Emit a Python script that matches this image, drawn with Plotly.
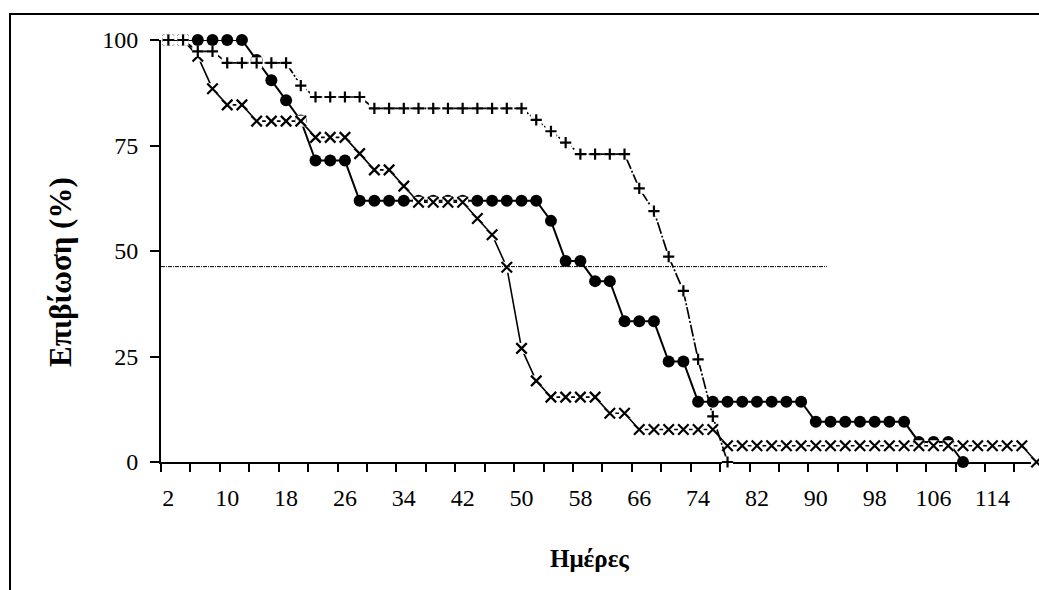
import plotly.graph_objects as go

# ---------------- data ----------------
circle_days = [2, 4, 6, 8, 10, 12, 14, 16, 18, 20, 22, 24, 26, 28, 30, 32, 34, 36, 38, 40,
               42, 44, 46, 48, 50, 52, 54, 56, 58, 60, 62, 64, 66, 68, 70, 72, 74, 76, 78, 80,
               82, 84, 86, 88, 90, 92, 94, 96, 98, 100, 102, 104, 106, 108, 110]
circle_vals = [100, 100, 100, 100, 100, 100, 95.24, 90.48, 85.71, 80.95, 71.43, 71.43, 71.43,
               61.9, 61.9, 61.9, 61.9, 61.9, 61.9, 61.9, 61.9, 61.9, 61.9, 61.9, 61.9, 61.9,
               57.14, 47.62, 47.62, 42.86, 42.86, 33.33, 33.33, 33.33, 23.81, 23.81,
               14.29, 14.29, 14.29, 14.29, 14.29, 14.29, 14.29, 14.29,
               9.52, 9.52, 9.52, 9.52, 9.52, 9.52, 9.52, 4.76, 4.76, 4.76, 0]

cross_days = [2, 4, 6, 8, 10, 12, 14, 16, 18, 20, 22, 24, 26, 28, 30, 32, 34, 36, 38, 40,
              42, 44, 46, 48, 50, 52, 54, 56, 58, 60, 62, 64, 66, 68, 70, 72, 74, 76, 78, 80,
              82, 84, 86, 88, 90, 92, 94, 96, 98, 100, 102, 104, 106, 108, 110, 112, 114, 116,
              118, 120]
cross_vals = [100, 100, 96.15, 88.46, 84.62, 84.62, 80.77, 80.77, 80.77, 80.77,
              76.92, 76.92, 76.92, 73.08, 69.23, 69.23, 65.38, 61.54, 61.54, 61.54, 61.54,
              57.69, 53.85, 46.15, 26.92, 19.23, 15.38, 15.38, 15.38, 15.38, 11.54, 11.54,
              7.69, 7.69, 7.69, 7.69, 7.69, 7.69,
              3.85, 3.85, 3.85, 3.85, 3.85, 3.85, 3.85, 3.85, 3.85, 3.85, 3.85, 3.85, 3.85,
              3.85, 3.85, 3.85, 3.85, 3.85, 3.85, 3.85, 3.85, 0]

plus_days = [2, 4, 6, 8, 10, 12, 14, 16, 18, 20, 22, 24, 26, 28, 30, 32, 34, 36, 38, 40,
             42, 44, 46, 48, 50, 52, 54, 56, 58, 60, 62, 64, 66, 68, 70, 72, 74, 76, 78]
plus_vals = [100, 100, 97.3, 97.3, 94.59, 94.59, 94.59, 94.59, 94.59, 89.19,
             86.49, 86.49, 86.49, 86.49, 83.78, 83.78, 83.78, 83.78, 83.78, 83.78, 83.78,
             83.78, 83.78, 83.78, 83.78, 81.08, 78.38, 75.68, 72.97, 72.97, 72.97, 72.97,
             64.86, 59.46, 48.65, 40.54, 24.32, 10.81, 0]

ref_level = 46.3          # horizontal reference line
ref_end_day = 91.5

x_tick_vals = [2, 10, 18, 26, 34, 42, 50, 58, 66, 74, 82, 90, 98, 106, 114]
x_tick_text = ["2", "10", "18", "26", "34", "42", "50", "58", "66", "74", "82", "90", "98",
               "106", "114"]
x_minor_ticks = [1, 5, 9, 13, 17, 21, 25, 29, 33, 37, 41, 45, 49, 53, 57, 61, 65, 69, 73,
                 77, 81, 85, 89, 93, 97, 101, 105, 109, 113, 117]
y_tick_vals = [0, 25, 50, 75, 100]
y_tick_text = ["0", "25", "50", "75", "100"]

x_title = "Ημέρες"
y_title = "Επιβίωση (%)"

# ---------------- figure ----------------
W, H = 1039, 590
ML, MT = 161, 40              # plot area starts at x=161, y=40
MB = H - 462                  # x axis at y=462
MR = 0
PW, PH = W - ML - MR, H - MT - MB
PX_PER_DAY = 7.3575

def px_x(p):                  # pixel -> paper fraction
    return (p - ML) / PW

def px_y(p):
    return (H - MB - p) / PH

SERIF = "Liberation Serif, Times New Roman, serif"

fig = go.Figure()

# circles (solid line)
fig.add_trace(go.Scatter(
    x=circle_days, y=circle_vals, mode="lines+markers",
    line=dict(color="black", width=2),
    marker=dict(symbol="circle", size=12, color="black"),
    cliponaxis=False, showlegend=False, hoverinfo="skip"))

# x-series: line + white marker background, then the x glyphs
fig.add_trace(go.Scatter(
    x=cross_days, y=cross_vals, mode="lines+markers",
    line=dict(color="black", width=1.6),
    marker=dict(symbol="square", size=11, color="white", line=dict(width=0)),
    cliponaxis=False, showlegend=False, hoverinfo="skip"))
fig.add_trace(go.Scatter(
    x=cross_days, y=cross_vals, mode="markers",
    marker=dict(symbol="x-thin", size=10.5, line=dict(color="black", width=2.2)),
    cliponaxis=False, showlegend=False, hoverinfo="skip"))

# plus-series: dash-dot line + white marker background, then the + glyphs
fig.add_trace(go.Scatter(
    x=plus_days, y=plus_vals, mode="lines+markers",
    line=dict(color="black", width=1.7, dash="12px,2px,2px,2px"),
    marker=dict(symbol="square", size=11, color="white", line=dict(width=0)),
    cliponaxis=False, showlegend=False, hoverinfo="skip"))
fig.add_trace(go.Scatter(
    x=plus_days, y=plus_vals, mode="markers",
    marker=dict(symbol="cross-thin", size=8, line=dict(color="black", width=2.2)),
    cliponaxis=False, showlegend=False, hoverinfo="skip"))

fig.update_layout(
    width=W, height=H,
    margin=dict(l=ML, r=MR, t=MT, b=MB, pad=0),
    paper_bgcolor="white", plot_bgcolor="white",
    hovermode=False,
    font=dict(family=SERIF, color="black"),
    xaxis=dict(
        range=[1, 1 + PW / PX_PER_DAY],
        tickmode="array", tickvals=x_tick_vals, ticktext=x_tick_text,
        ticks="outside", ticklen=8, tickwidth=2, tickcolor="rgba(0,0,0,0)",
        ticklabelstandoff=5,
        minor=dict(tickmode="array", tickvals=x_minor_ticks, ticks="outside",
                   ticklen=8, tickwidth=2, tickcolor="black", showgrid=False),
        tickfont=dict(family=SERIF, size=24, color="black"),
        showline=True, linewidth=2, linecolor="black",
        showgrid=False, zeroline=False, layer="below traces", fixedrange=True),
    yaxis=dict(
        range=[0, 100],
        tickmode="array", tickvals=y_tick_vals, ticktext=y_tick_text,
        ticks="outside", ticklen=9, tickwidth=2, tickcolor="black",
        ticklabelstandoff=7,
        tickfont=dict(family=SERIF, size=24, color="black"),
        showline=True, linewidth=2, linecolor="black",
        showgrid=False, zeroline=False, layer="below traces", fixedrange=True),
)

# horizontal reference line
fig.add_shape(type="line", xref="x", yref="y", x0=1, x1=ref_end_day,
              y0=ref_level, y1=ref_level,
              line=dict(color="black", width=1, dash="4px,1px,1px,1px"))

# outer chart border (cropped at the right and bottom)
fig.add_shape(type="rect", xref="paper", yref="paper",
              x0=px_x(10), x1=px_x(W + 30), y0=px_y(H + 30), y1=px_y(14),
              line=dict(color="black", width=2), fillcolor="rgba(0,0,0,0)", layer="above")

fig.add_annotation(text="<b>%s</b>" % x_title, xref="paper", yref="paper",
                   x=px_x(589), y=px_y(558), xanchor="center", yanchor="middle",
                   showarrow=False, font=dict(family=SERIF, size=25, color="black"))
fig.add_annotation(text="<b>%s</b>" % y_title, xref="paper", yref="paper",
                   x=px_x(60), y=px_y(272), xanchor="center", yanchor="middle",
                   textangle=-90, showarrow=False,
                   font=dict(family=SERIF, size=31, color="black"))

fig.write_html(
    "out.html",
    config={"displayModeBar": False},
    post_script="document.body.style.margin='0';document.body.style.overflow='hidden';",
)
